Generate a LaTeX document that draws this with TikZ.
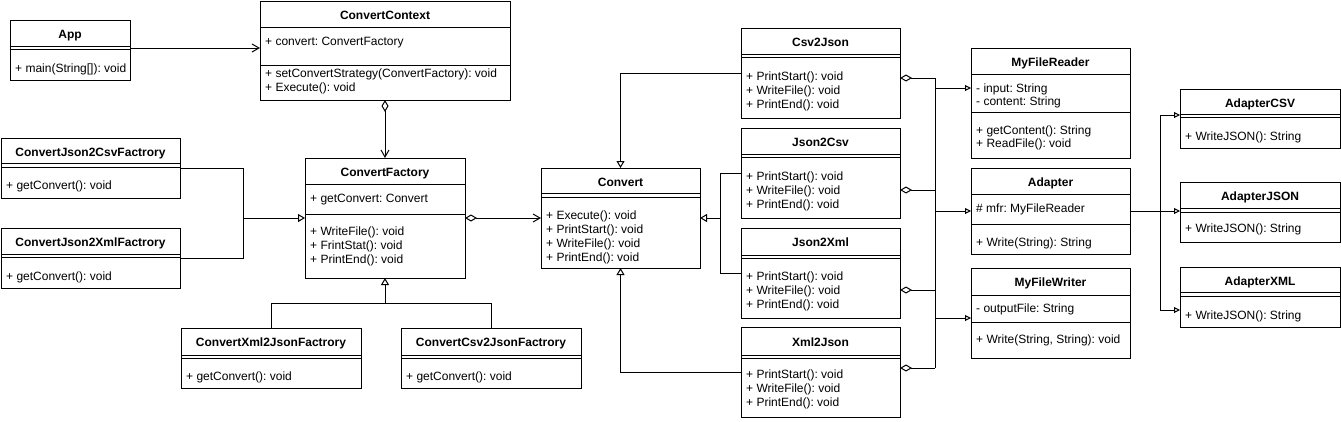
\documentclass[tikz,border=0pt]{standalone}
\usepackage{fontspec}
\setmainfont{Liberation Sans}
\usetikzlibrary{arrows.meta}
\frenchspacing

\begin{document}
\begin{tikzpicture}[x=1pt,y=1pt,yscale=-1,xscale=1,
    every node/.style={font=\fontsize{12}{14}\selectfont},
    cls/.style={draw, line width=1pt, anchor=north west, inner sep=0pt, outer sep=0pt},
    ttl/.style={anchor=base, inner sep=0pt, font=\fontsize{12}{14}\selectfont\bfseries},
    mbr/.style={anchor=base west, inner sep=0pt},
    con/.style={line width=1pt},
    assoc/.style={con, -{Straight Barb[length=7pt,width=8pt]}},
    aggr/.style={con, {Diamond[open,length=12pt,width=7pt]}-{Straight Barb[length=7pt,width=8pt]}},
    dia/.style={con, {Diamond[open,length=12pt,width=7pt]}-},
    gen/.style={con, -{Triangle[open,length=7pt,width=8pt]}},
    gens/.style={con, -{Triangle[open,length=6pt,width=6pt]}}]
    \useasboundingbox (0,0) rectangle (1341,421);

    %Shape: Class [App]
    \node[cls, minimum width=120pt, minimum height=60pt] (app) at (10,20) {};
    \draw[con] (app.west |- 0,46) -- (app.east |- 0,46) (app.west |- 0,49.5) -- (app.east |- 0,49.5);
    % Text Node
    \node[ttl] (appT) at (70,38.5) {App};
    \node[mbr] (appM) at (15,72.5) {+ main(String[]): void};

    %Shape: Class [ConvertContext]
    \node[cls, minimum width=250pt, minimum height=99pt] (context) at (260,1) {};
    \draw[con] (context.west |- 0,27) -- (context.east |- 0,27) (context.west |- 0,65) -- (context.east |- 0,65);
    % Text Node
    \node[ttl] (contextT) at (385,19.5) {ConvertContext};
    \node[mbr] (contextA) at (265,45) {+ convert: ConvertFactory};
    \node[mbr] (contextM1) at (265,77.5) {+ setConvertStrategy(ConvertFactory): void};
    \node[mbr] (contextM2) at (265,91.5) {+ Execute(): void};

    %Shape: Class [ConvertFactory]
    \node[cls, minimum width=160pt, minimum height=120pt] (factory) at (305,158) {};
    \draw[con] (factory.west |- 0,184) -- (factory.east |- 0,184) (factory.west |- 0,214) -- (factory.east |- 0,214);
    % Text Node
    \node[ttl] (factoryT) at (385,176.5) {ConvertFactory};
    \node[mbr] (factoryA) at (310,202.3) {+ getConvert: Convert};
    \node[mbr] (factoryM1) at (310,235.7) {+ WriteFile(): void};
    \node[mbr] (factoryM2) at (310,249.7) {+ FrintStat(): void};
    \node[mbr] (factoryM3) at (310,263.3) {+ PrintEnd(): void};

    %Shape: Class [ConvertJson2CsvFactrory]
    \node[cls, minimum width=179pt, minimum height=60pt] (fJ2C) at (1,138) {};
    \draw[con] (fJ2C.west |- 0,163.5) -- (fJ2C.east |- 0,163.5) (fJ2C.west |- 0,167) -- (fJ2C.east |- 0,167);
    % Text Node
    \node[ttl] (fJ2CT) at (90.5,156.5) {ConvertJson2CsvFactrory};
    \node[mbr] (fJ2CM) at (6,189) {+ getConvert(): void};

    %Shape: Class [ConvertJson2XmlFactrory]
    \node[cls, minimum width=179pt, minimum height=60pt] (fJ2X) at (1,228) {};
    \draw[con] (fJ2X.west |- 0,254) -- (fJ2X.east |- 0,254) (fJ2X.west |- 0,257.5) -- (fJ2X.east |- 0,257.5);
    % Text Node
    \node[ttl] (fJ2XT) at (90.5,246.5) {ConvertJson2XmlFactrory};
    \node[mbr] (fJ2XM) at (6,280) {+ getConvert(): void};

    %Shape: Class [ConvertXml2JsonFactrory]
    \node[cls, minimum width=180pt, minimum height=60pt] (fX2J) at (181,328) {};
    \draw[con] (fX2J.west |- 0,355) -- (fX2J.east |- 0,355) (fX2J.west |- 0,358.5) -- (fX2J.east |- 0,358.5);
    % Text Node
    \node[ttl] (fX2JT) at (271,346.5) {ConvertXml2JsonFactrory};
    \node[mbr] (fX2JM) at (186,380) {+ getConvert(): void};

    %Shape: Class [ConvertCsv2JsonFactrory]
    \node[cls, minimum width=180pt, minimum height=60pt] (fC2J) at (401,328) {};
    \draw[con] (fC2J.west |- 0,355) -- (fC2J.east |- 0,355) (fC2J.west |- 0,358.5) -- (fC2J.east |- 0,358.5);
    % Text Node
    \node[ttl] (fC2JT) at (491,346.5) {ConvertCsv2JsonFactrory};
    \node[mbr] (fC2JM) at (406,380) {+ getConvert(): void};

    %Shape: Class [Convert]
    \node[cls, minimum width=159pt, minimum height=100pt] (convert) at (541,168) {};
    \draw[con] (convert.west |- 0,193.5) -- (convert.east |- 0,193.5) (convert.west |- 0,197) -- (convert.east |- 0,197);
    % Text Node
    \node[ttl] (convertT) at (620.5,186.5) {Convert};
    \node[mbr] (convertM1) at (546,219) {+ Execute(): void};
    \node[mbr] (convertM2) at (546,233.3) {+ PrintStart(): void};
    \node[mbr] (convertM3) at (546,247.3) {+ WriteFile(): void};
    \node[mbr] (convertM4) at (546,261.3) {+ PrintEnd(): void};

    %Shape: Class [Csv2Json]
    \node[cls, minimum width=159pt, minimum height=90pt] (csv2json) at (741,28) {};
    \draw[con] (csv2json.west |- 0,54) -- (csv2json.east |- 0,54) (csv2json.west |- 0,57.5) -- (csv2json.east |- 0,57.5);
    % Text Node
    \node[ttl] (csv2jsonT) at (820.5,46.5) {Csv2Json};
    \node[mbr] (csv2jsonM1) at (746,80) {+ PrintStart(): void};
    \node[mbr] (csv2jsonM2) at (746,94) {+ WriteFile(): void};
    \node[mbr] (csv2jsonM3) at (746,108) {+ PrintEnd(): void};

    %Shape: Class [Json2Csv]
    \node[cls, minimum width=159pt, minimum height=90pt] (json2csv) at (741,128) {};
    \draw[con] (json2csv.west |- 0,154) -- (json2csv.east |- 0,154) (json2csv.west |- 0,157.5) -- (json2csv.east |- 0,157.5);
    % Text Node
    \node[ttl] (json2csvT) at (820.5,146.5) {Json2Csv};
    \node[mbr] (json2csvM1) at (746,180) {+ PrintStart(): void};
    \node[mbr] (json2csvM2) at (746,194) {+ WriteFile(): void};
    \node[mbr] (json2csvM3) at (746,208) {+ PrintEnd(): void};

    %Shape: Class [Json2Xml]
    \node[cls, minimum width=159pt, minimum height=90pt] (json2xml) at (741,228) {};
    \draw[con] (json2xml.west |- 0,255) -- (json2xml.east |- 0,255) (json2xml.west |- 0,258.5) -- (json2xml.east |- 0,258.5);
    % Text Node
    \node[ttl] (json2xmlT) at (820.5,246.5) {Json2Xml};
    \node[mbr] (json2xmlM1) at (746,280) {+ PrintStart(): void};
    \node[mbr] (json2xmlM2) at (746,294) {+ WriteFile(): void};
    \node[mbr] (json2xmlM3) at (746,308) {+ PrintEnd(): void};

    %Shape: Class [Xml2Json]
    \node[cls, minimum width=159pt, minimum height=90pt] (xml2json) at (741,327.5) {};
    \draw[con] (xml2json.west |- 0,355) -- (xml2json.east |- 0,355) (xml2json.west |- 0,358.5) -- (xml2json.east |- 0,358.5);
    % Text Node
    \node[ttl] (xml2jsonT) at (820.5,346) {Xml2Json};
    \node[mbr] (xml2jsonM1) at (746,378.5) {+ PrintStart(): void};
    \node[mbr] (xml2jsonM2) at (746,392.5) {+ WriteFile(): void};
    \node[mbr] (xml2jsonM3) at (746,406.5) {+ PrintEnd(): void};

    %Shape: Class [MyFileReader]
    \node[cls, minimum width=159pt, minimum height=110pt] (reader) at (971,48) {};
    \draw[con] (reader.west |- 0,74.5) -- (reader.east |- 0,74.5) (reader.west |- 0,112.5) -- (reader.east |- 0,112.5);
    % Text Node
    \node[ttl] (readerT) at (1050.5,66.5) {MyFileReader};
    \node[mbr] (readerA1) at (976,92.3) {- input: String};
    \node[mbr] (readerA2) at (976,105.7) {- content: String};
    \node[mbr] (readerM1) at (976,134) {+ getContent(): String};
    \node[mbr] (readerM2) at (976,147.7) {+ ReadFile(): void};

    %Shape: Class [Adapter]
    \node[cls, minimum width=159pt, minimum height=86pt] (adapter) at (971,168) {};
    \draw[con] (adapter.west |- 0,194.5) -- (adapter.east |- 0,194.5) (adapter.west |- 0,224.5) -- (adapter.east |- 0,224.5);
    % Text Node
    \node[ttl] (adapterT) at (1050.5,186.5) {Adapter};
    \node[mbr] (adapterA) at (976,212.3) {\# mfr: MyFileReader};
    \node[mbr] (adapterM) at (976,246.3) {+ Write(String): String};

    %Shape: Class [MyFileWriter]
    \node[cls, minimum width=159pt, minimum height=90pt] (writer) at (971,268) {};
    \draw[con] (writer.west |- 0,295) -- (writer.east |- 0,295) (writer.west |- 0,322.5) -- (writer.east |- 0,322.5);
    % Text Node
    \node[ttl] (writerT) at (1050.5,286.5) {MyFileWriter};
    \node[mbr] (writerA) at (976,312.3) {- outputFile: String};
    \node[mbr] (writerM) at (976,343.3) {+ Write(String, String): void};

    %Shape: Class [AdapterCSV]
    \node[cls, minimum width=160pt, minimum height=59pt] (adapterCSV) at (1180,89) {};
    \draw[con] (adapterCSV.west |- 0,114) -- (adapterCSV.east |- 0,114) (adapterCSV.west |- 0,117.5) -- (adapterCSV.east |- 0,117.5);
    % Text Node
    \node[ttl] (adapterCSVT) at (1260,107.5) {AdapterCSV};
    \node[mbr] (adapterCSVM) at (1185,140) {+ WriteJSON(): String};

    %Shape: Class [AdapterJSON]
    \node[cls, minimum width=160pt, minimum height=60pt] (adapterJSON) at (1180,182) {};
    \draw[con] (adapterJSON.west |- 0,208.5) -- (adapterJSON.east |- 0,208.5) (adapterJSON.west |- 0,212) -- (adapterJSON.east |- 0,212);
    % Text Node
    \node[ttl] (adapterJSONT) at (1260,200.5) {AdapterJSON};
    \node[mbr] (adapterJSONM) at (1185,232.3) {+ WriteJSON(): String};

    %Shape: Class [AdapterXML]
    \node[cls, minimum width=160pt, minimum height=60pt] (adapterXML) at (1180,267) {};
    \draw[con] (adapterXML.west |- 0,292.5) -- (adapterXML.east |- 0,292.5) (adapterXML.west |- 0,296.5) -- (adapterXML.east |- 0,296.5);
    % Text Node
    \node[ttl] (adapterXMLT) at (1260,285.5) {AdapterXML};
    \node[mbr] (adapterXMLM) at (1185,319) {+ WriteJSON(): String};

    %Connectors
    \coordinate (jbus) at (243,218);
    \coordinate (fbus) at (385,303);
    \coordinate (cbus) at (720,218);
    \coordinate (rbusTop) at (935,78);
    \coordinate (rbusBot) at (935,368);
    \coordinate (abus) at (1160,211);

    \draw[assoc] (app.east |- 0,48) -- (context.west |- 0,48);
    \draw[aggr] (context.south) -- (factory.north);
    \draw[con] (fJ2C.east) -| (jbus);
    \draw[con] (fJ2X.east) -| (jbus);
    \draw[gen] (jbus) -- (factory.west);
    \draw[con] (fX2J.north) |- (fbus);
    \draw[con] (fC2J.north) |- (fbus);
    \draw[gen] (fbus) -- (factory.south);
    \draw[aggr] (factory.east) -- (convert.west);

    \draw[gen] (csv2json.west) -| (convert.north);
    \draw[con] (json2csv.west) -| (cbus);
    \draw[con] (json2xml.west) -| (cbus);
    \draw[gen] (cbus) -- (convert.east);
    \draw[gen] (xml2json.west) -| (convert.south);

    \draw[dia] (csv2json.east |- rbusTop) -- (rbusTop);
    \draw[dia] (json2csv.east |- 0,190) -- (rbusTop |- 0,190);
    \draw[dia] (json2xml.east |- 0,290) -- (rbusTop |- 0,290);
    \draw[dia] (xml2json.east |- rbusBot) -- (rbusBot);
    \draw[con] (rbusTop) -- (rbusBot);
    \draw[gens] (rbusTop |- 0,88) -- (reader.west |- 0,88);
    \draw[gens] (rbusTop |- adapter.west) -- (adapter.west);
    \draw[gens] (rbusTop |- 0,318) -- (writer.west |- 0,318);

    \draw[gens] (adapter.east) -- (adapterJSON.west |- adapter.east);
    \draw[gens] (abus) |- (adapterCSV.west |- 0,115);
    \draw[gens] (abus) |- (adapterXML.west |- 0,310);

\end{tikzpicture}
\end{document}
